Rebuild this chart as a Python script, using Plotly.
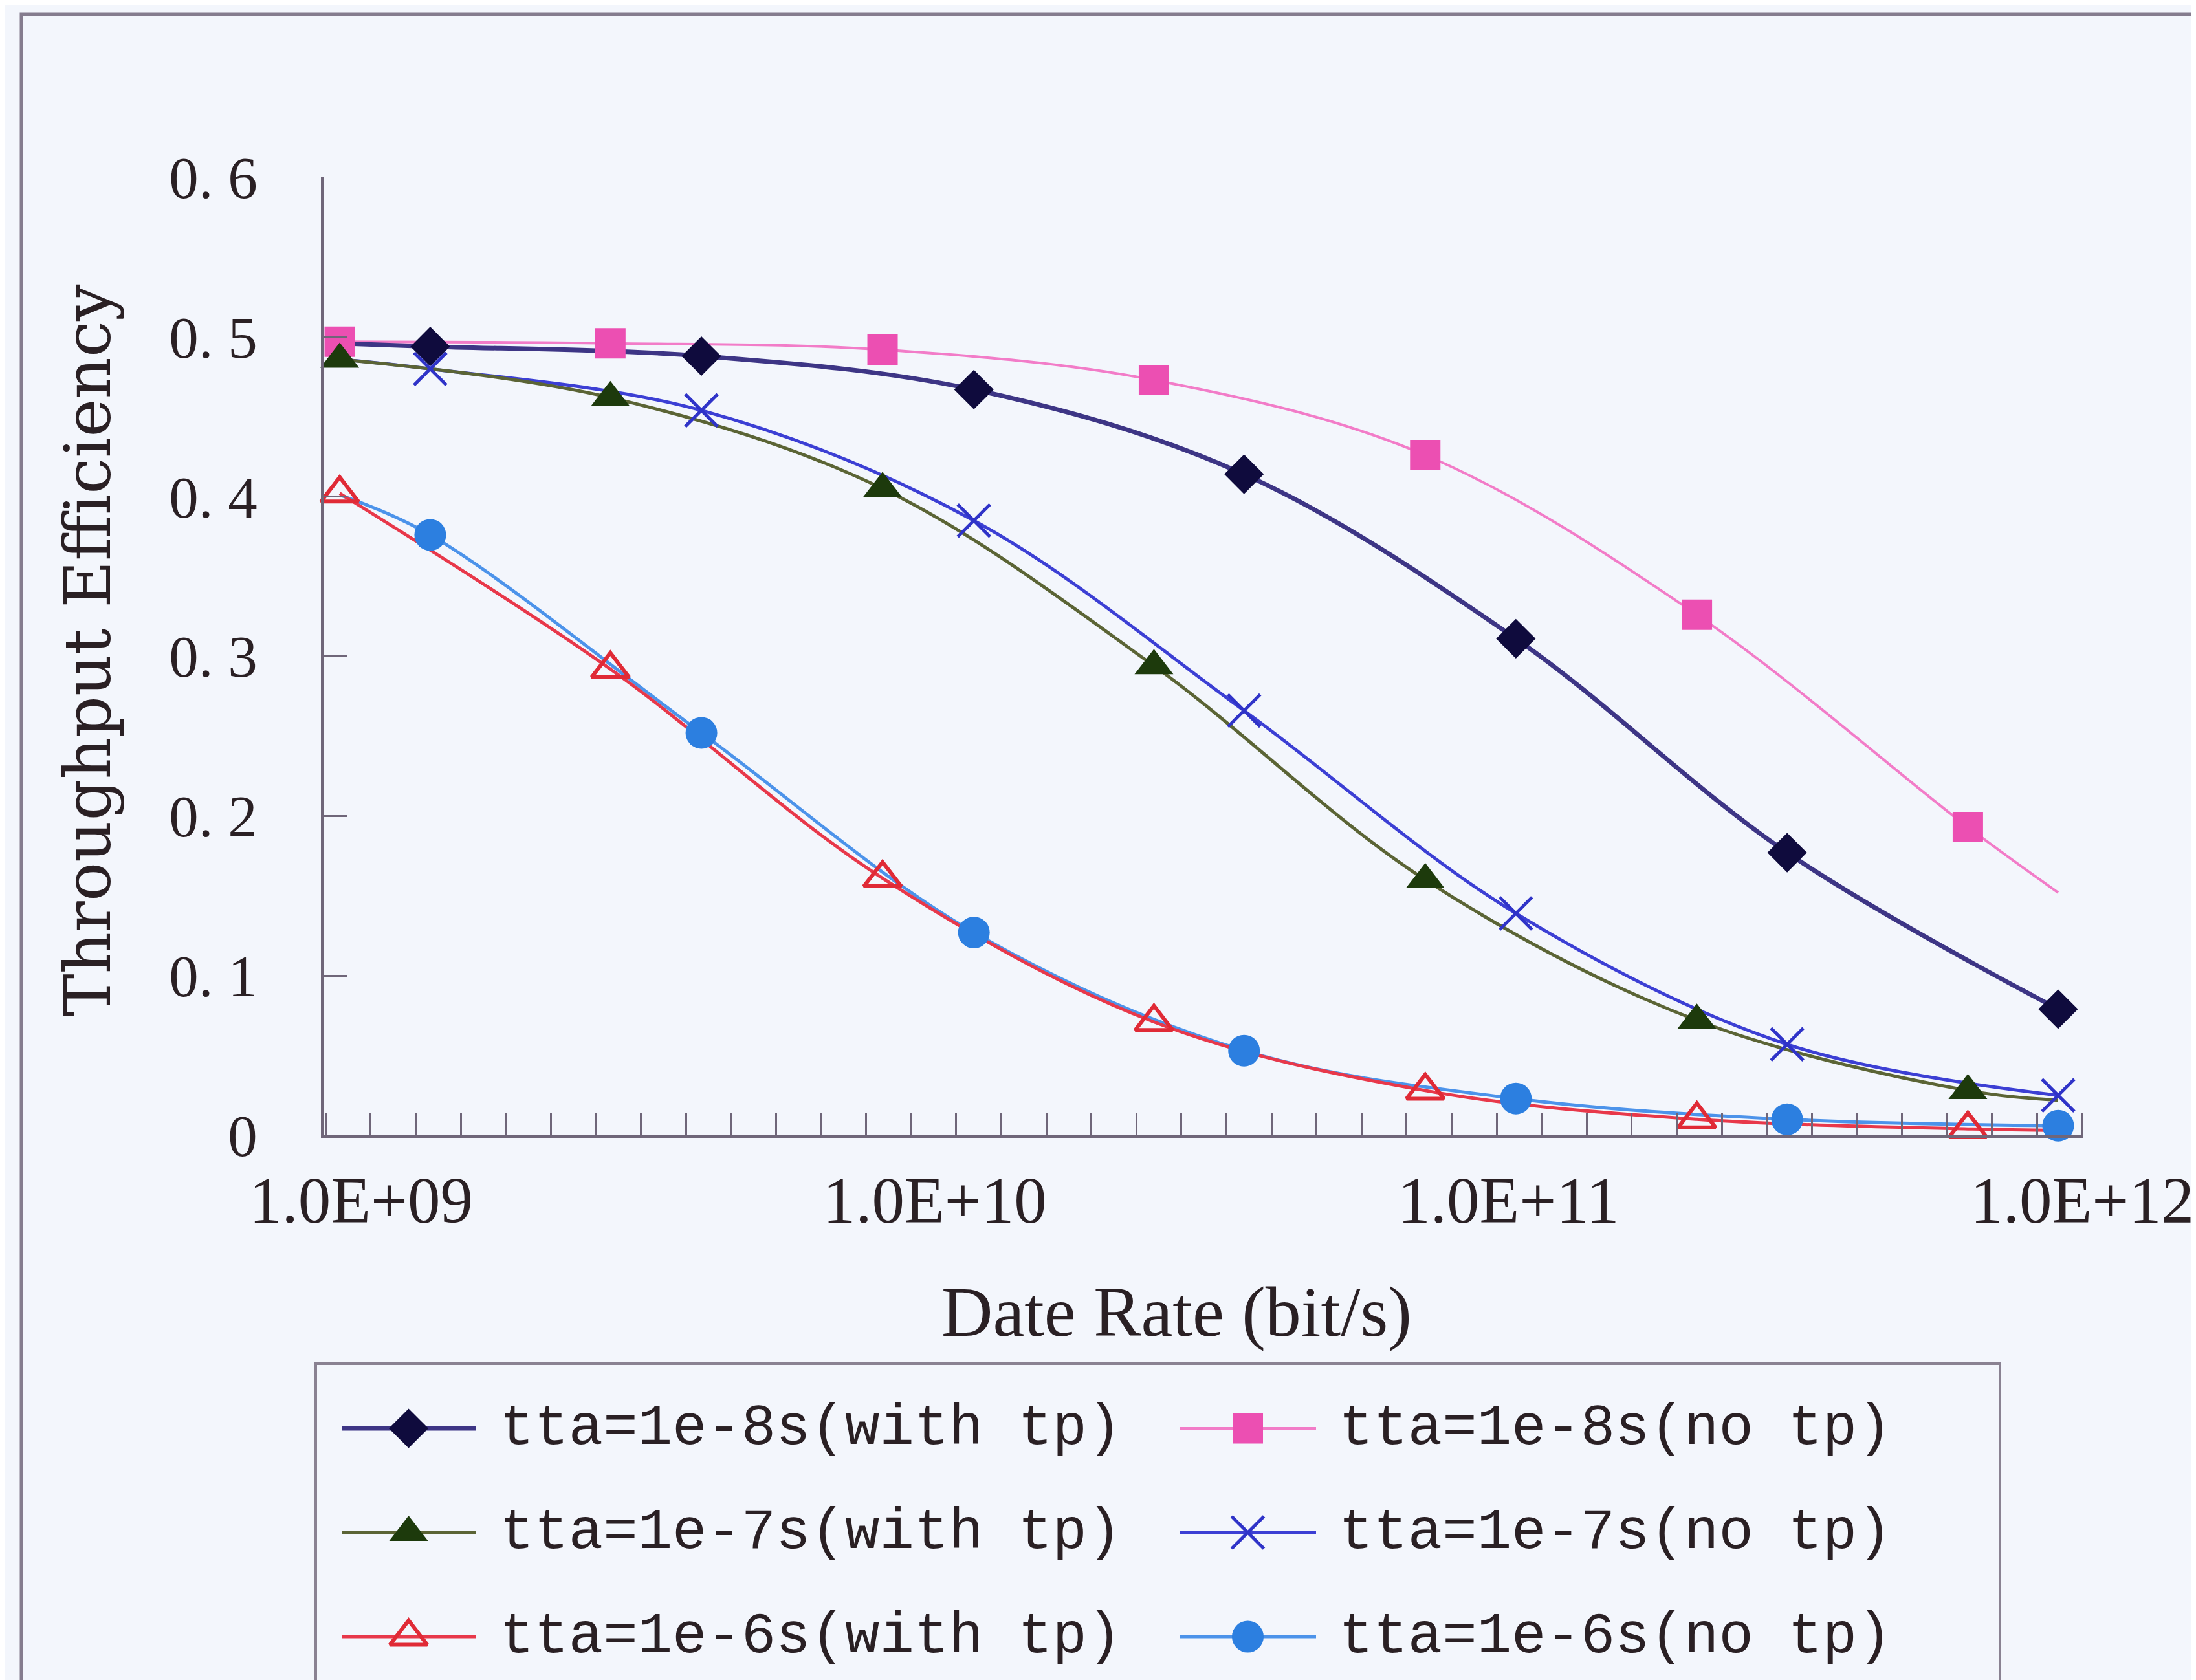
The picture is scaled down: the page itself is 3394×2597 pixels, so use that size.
import plotly.graph_objects as go

W, H = 3394, 2597

# ---------------- data ----------------
# data rates (bit/s) where the markers sit
rate_a = [9.18e8, 2.72e9, 8.11e9, 2.41e10, 7.16e10, 2.13e11, 6.32e11]
rate_b = [1.32e9, 3.92e9, 1.17e10, 3.46e10, 1.03e11, 3.06e11, 9.08e11]
rate_first = 9.18e8     # where the curves plotted on rate_b start
rate_last = 9.08e11     # where the curves plotted on rate_a end

eff_8_with = [0.494, 0.488, 0.467, 0.414, 0.311, 0.177, 0.079]   # on rate_b
eff_8_with_first = 0.496
eff_8_no = [0.497, 0.496, 0.492, 0.473, 0.426, 0.326, 0.193]     # on rate_a
eff_8_no_last = 0.152
eff_7_with = [0.486, 0.462, 0.405, 0.294, 0.160, 0.072, 0.028]   # on rate_a
eff_7_with_last = 0.022
eff_7_no = [0.480, 0.454, 0.385, 0.266, 0.139, 0.057, 0.025]     # on rate_b
eff_7_no_first = 0.486
eff_6_with = [0.402, 0.292, 0.161, 0.071, 0.028, 0.010, 0.004]   # on rate_a
eff_6_with_last = 0.003
eff_6_no = [0.376, 0.252, 0.127, 0.053, 0.023, 0.010, 0.006]     # on rate_b
eff_6_no_first = 0.401

series_names = ["tta=1e-8s(with tp)", "tta=1e-8s(no tp)",
                "tta=1e-7s(with tp)", "tta=1e-7s(no tp)",
                "tta=1e-6s(with tp)", "tta=1e-6s(no tp)"]

x_tick_vals = [1e9, 1e10, 1e11, 1e12]
x_tick_text = ["1.0E+09", "1.0E+10", "1.0E+11", "1.0E+12"]
y_tick_vals = [0, 0.1, 0.2, 0.3, 0.4, 0.5, 0.6]
y_tick_text = ["0", "0. 1", "0. 2", "0. 3", "0. 4", "0. 5", "0. 6"]

x_title = "Date Rate (bit/s)"
y_title = "Throughput Efficiency"

# ---------------- styles ----------------
BG = "#f3f6fc"
AX = "#6f6679"
TXT = "#2a2024"

styles = [
    dict(line="#3d3585", lw=7, sym="diamond", size=47, mcol="#0f0b3d", open=False),
    dict(line="#f27cc8", lw=4, sym="square", size=47, mcol="#ec4fb2", open=False),
    dict(line="#5b6435", lw=5, sym="triangle-up", size=52, mcol="#1d3a0c", open=False),
    dict(line="#3c3fd4", lw=5, sym="x-thin", size=50, mcol="#2f33c8", open=True),
    dict(line="#e8384a", lw=5, sym="triangle-up-open", size=50, mcol="#e02a36", open=True),
    dict(line="#4c93ea", lw=5, sym="circle", size=49, mcol="#2c7fe0", open=False),
]

curves = [
    ([rate_first] + rate_b, [eff_8_with_first] + eff_8_with, rate_b, eff_8_with),
    (rate_a + [rate_last], eff_8_no + [eff_8_no_last], rate_a, eff_8_no),
    (rate_a + [rate_last], eff_7_with + [eff_7_with_last], rate_a, eff_7_with),
    ([rate_first] + rate_b, [eff_7_no_first] + eff_7_no, rate_b, eff_7_no),
    (rate_a + [rate_last], eff_6_with + [eff_6_with_last], rate_a, eff_6_with),
    ([rate_first] + rate_b, [eff_6_no_first] + eff_6_no, rate_b, eff_6_no),
]


def marker_dict(st):
    if st["sym"] == "x-thin":
        return dict(symbol="x-thin", size=st["size"], color=st["mcol"],
                    line=dict(color=st["mcol"], width=5))
    if st["open"]:
        return dict(symbol=st["sym"], size=st["size"], color=st["mcol"],
                    line=dict(color=st["mcol"], width=6))
    return dict(symbol=st["sym"], size=st["size"], color=st["mcol"],
                line=dict(width=0))


fig = go.Figure()

draw_order = [1, 0, 3, 2, 5, 4]
for i in draw_order:
    lx, ly, mx, my = curves[i]
    st = styles[i]
    fig.add_trace(go.Scatter(x=lx, y=ly, mode="lines", name=series_names[i],
                             line=dict(color=st["line"], width=st["lw"],
                                       shape="spline", smoothing=1.0),
                             showlegend=False, hoverinfo="skip",
                             xaxis="x", yaxis="y"))
for i in draw_order:
    lx, ly, mx, my = curves[i]
    st = styles[i]
    fig.add_trace(go.Scatter(x=mx, y=my, mode="markers", name=series_names[i],
                             marker=marker_dict(st), cliponaxis=False,
                             showlegend=False, xaxis="x", yaxis="y"))

# ---------------- hand drawn legend (pixel overlay axes) ----------------
leg_rows = [2200, 2361, 2522]
leg_cols = [(520, 727, 762), (1815, 2026, 2059)]
annotations = []
for i, name in enumerate(series_names):
    r, c = divmod(i, 2)
    x0, x1, xt = leg_cols[c]
    yy = leg_rows[r]
    st = styles[i]
    fig.add_trace(go.Scatter(x=[x0, x1], y=[yy, yy], mode="lines",
                             line=dict(color=st["line"], width=st["lw"]),
                             showlegend=False, hoverinfo="skip",
                             xaxis="x2", yaxis="y2"))
    fig.add_trace(go.Scatter(x=[(x0 + x1) / 2], y=[yy], mode="markers",
                             marker=marker_dict(st), showlegend=False,
                             hoverinfo="skip", xaxis="x2", yaxis="y2"))
    annotations.append(dict(x=xt, y=yy, xref="x2", yref="y2", text=name,
                            showarrow=False, xanchor="left", yanchor="middle",
                            font=dict(family="Liberation Mono", size=89, color=TXT)))

annotations.append(dict(x=1810, y=2020, xref="x2", yref="y2", text=x_title,
                        showarrow=False, xanchor="center", yanchor="middle",
                        font=dict(family="Liberation Serif", size=110, color=TXT)))
annotations.append(dict(x=127, y=998, xref="x2", yref="y2", text=y_title,
                        showarrow=False, xanchor="center", yanchor="middle",
                        textangle=-90,
                        font=dict(family="DejaVu Serif", size=100, color=TXT)))

shapes = [
    dict(type="rect", xref="x2", yref="y2", x0=25, y0=14, x1=3384, y1=2700,
         line=dict(color="#857c8e", width=5), fillcolor="rgba(0,0,0,0)", layer="below"),
    dict(type="rect", xref="x2", yref="y2", x0=480, y0=2100, x1=3083, y1=2700,
         line=dict(color="#8a8292", width=4), fillcolor="rgba(0,0,0,0)", layer="below"),
]

x_left_px, x_right_px = 492, 3212
y_bottom_px, y_top_px = 1747, 266

fig.update_layout(
    template="none",
    width=W, height=H,
    margin=dict(l=0, r=0, t=0, b=0, pad=0, autoexpand=False),
    paper_bgcolor=BG, plot_bgcolor="rgba(0,0,0,0)",
    showlegend=False,
    annotations=annotations,
    shapes=shapes,
    xaxis=dict(
        type="log", domain=[x_left_px / W, x_right_px / W],
        range=[8.9346, 12.0021], anchor="y", automargin=False,
        showline=True, linecolor=AX, linewidth=4,
        showgrid=False, zeroline=False,
        tickmode="array", tickvals=x_tick_vals, ticktext=x_tick_text,
        ticks="", ticklabelstandoff=10,
        tickfont=dict(family="Liberation Serif", size=101, color=TXT),
        minor=dict(ticks="inside", ticklen=34, tickwidth=3, tickcolor=AX,
                   tickmode="linear", tick0=8.93842, dtick=0.078494,
                   showgrid=False),
    ),
    yaxis=dict(
        domain=[(H - y_bottom_px) / H, (H - y_top_px) / H],
        range=[0, 0.6], anchor="x", automargin=False,
        showline=True, linecolor=AX, linewidth=4,
        showgrid=False, zeroline=False,
        tickmode="array", tickvals=y_tick_vals, ticktext=y_tick_text,
        ticks="inside", ticklen=36, tickwidth=3, tickcolor=AX,
        ticklabelstandoff=80,
        tickfont=dict(family="Liberation Serif", size=91, color=TXT),
    ),
    xaxis2=dict(domain=[0, 1], range=[0, W], anchor="y2", visible=False,
                fixedrange=True, automargin=False),
    yaxis2=dict(domain=[0, 1], range=[H, 0], anchor="x2", visible=False,
                fixedrange=True, automargin=False),
)

fig.write_html("out.html")
